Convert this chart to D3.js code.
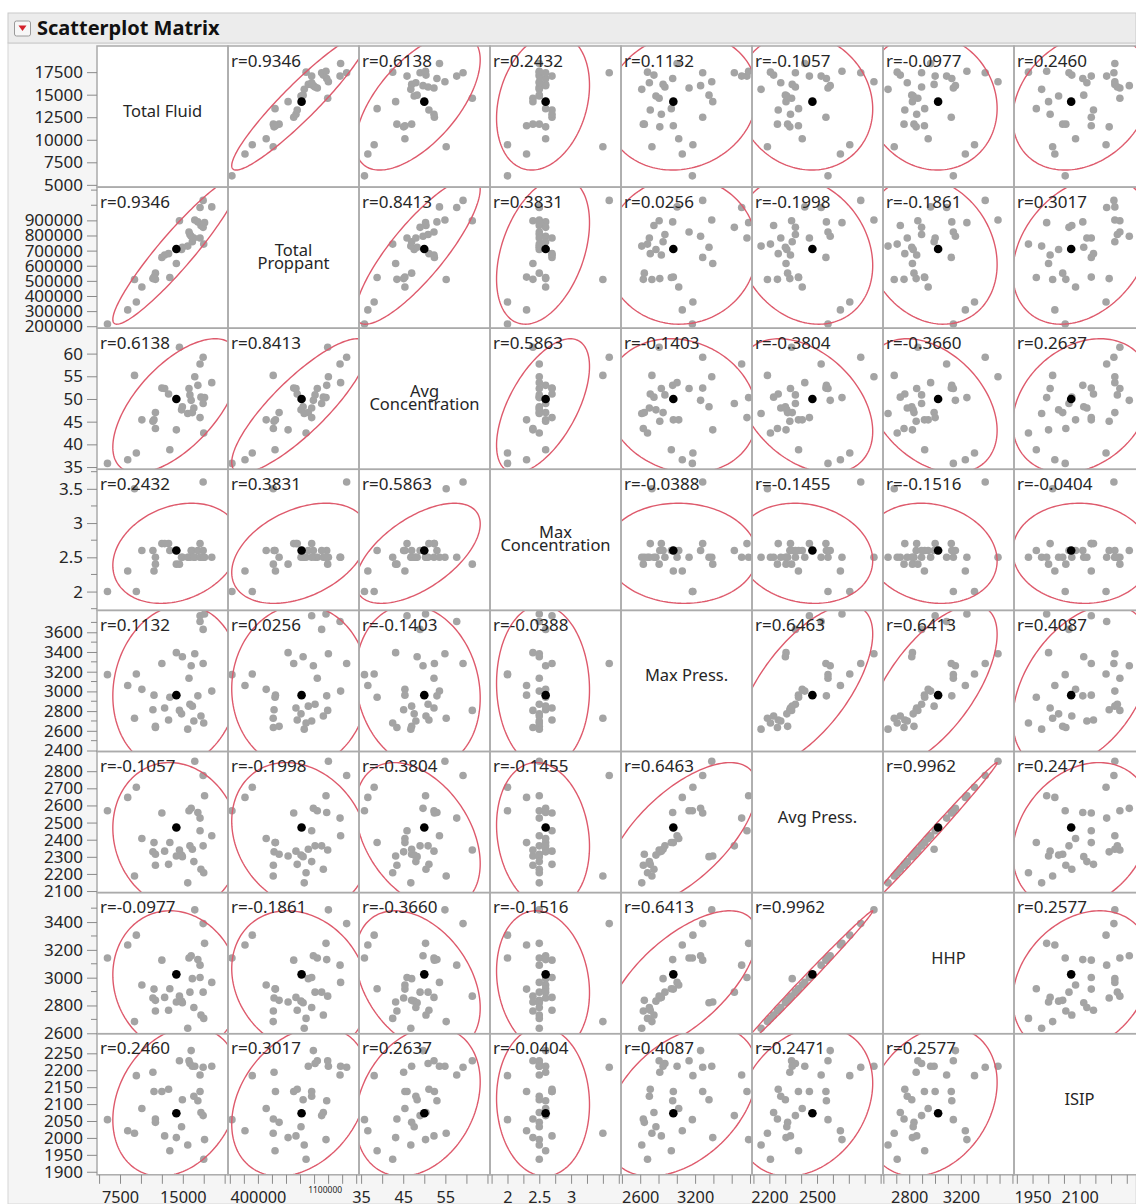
<!DOCTYPE html>
<html>
<head>
<meta charset="utf-8">
<script src="https://cdn.jsdelivr.net/npm/d3@7"></script>
<style>
  body { margin: 0; background: #fff; }
  svg { display: block; }
  text { font-family: "Noto Sans", "Open Sans", sans-serif; }
</style>
</head>
<body>
<svg id="chart" width="1136" height="1204"></svg>
<script>
// ---- Variables of the frac-job table ----
const variables = ["Total Fluid", "Total Proppant", "Avg Concentration", "Max Concentration",
                   "Max Press.", "Avg Press.", "HHP", "ISIP"];
const diagonalLabels = [["Total Fluid"], ["Total", "Proppant"], ["Avg", "Concentration"],
                        ["Max", "Concentration"], ["Max Press."], ["Avg Press."], ["HHP"], ["ISIP"]];

// One value per stage (row 14 is the highlighted stage)
const totalFluid = [6000, 8420, 9230, 9450, 10110, 11430, 11730, 11730, 11560, 12500, 12830, 13300,
  13450, 14230, 14230, 14600, 14850, 14950, 15590, 15740, 15850, 16000, 16140, 16320, 16430, 16800,
  17060, 17060, 17170, 17430, 17430, 17500, 17600, 18460];
const totalProppant = [215000, 308000, 509000, 360000, 459000, 515000, 510000, 551000, 525000, 655000,
  671000, 680000, 522000, 615000, 711000, 897000, 707000, 722000, 730000, 823000, 807000, 795000,
  759000, 783000, 902000, 890000, 783000, 985000, 866000, 854000, 1032000, 743000, 885000, 989000];
const avgConcentration = [35.8, 36.6, 55.2, 38.1, 45.4, 45.1, 43.5, 47.0, 45.4, 52.4, 52.3, 51.1,
  38.8, 43.2, 50.0, 61.4, 47.6, 48.3, 46.8, 52.3, 50.9, 49.7, 47.0, 48.0, 54.9, 53.0, 45.9, 57.7,
  50.4, 49.0, 59.2, 42.5, 50.3, 53.6];
const maxConcentration = [2.0, 2.3, 3.5, 2.0, 2.6, 2.6, 2.4, 2.5, 2.3, 2.7, 2.7, 2.7, 2.6, 2.4, 2.6,
  2.4, 2.5, 2.5, 2.5, 2.5, 2.5, 2.6, 2.6, 2.5, 2.5, 2.6, 2.7, 2.5, 2.5, 2.6, 3.6, 2.5, 2.5, 2.5];
const maxPress = [3170, 3060, 2728, 3176, 3021, 2814, 2634, 2645, 2962, 3283, 2831, 2710, 2940, 3393,
  2962, 2807, 2772, 3352, 2617, 3134, 2870, 3260, 2850, 2700, 3382, 2955, 3767, 3709, 2750, 3629,
  3283, 2680, 3785, 3003];
const avgPress = [2569, 2647, 2188, 2706, 2407, 2329, 2251, 2315, 2383, 2556, 2333, 2256, 2384, 2305,
  2471, 2340, 2310, 2301, 2148, 2569, 2364, 2583, 2344, 2272, 2858, 2559, 2452, 2526, 2227, 2364,
  2775, 2207, 2657, 2423];
const hhp = [3142, 3235, 2684, 3306, 2947, 2854, 2760, 2837, 2918, 3126, 2858, 2766, 2920, 2825, 3024,
  2867, 2831, 2820, 2636, 3142, 2896, 3158, 2993, 2785, 3488, 3130, 3001, 3090, 2731, 2896, 3389,
  2707, 3247, 2966];
const isip = [2054, 2021, 2014, 2184, 2087, 2194, 2056, 2046, 2137, 2137, 2006, 2144, 1962, 2001, 2073,
  2228, 2033, 2113, 1979, 2228, 2220, 2258, 2212, 2123, 2212, 2110, 2137, 2186, 2075, 2066, 2209,
  1937, 1995, 2212];
const highlightedRow = 14;

// Pairwise correlations printed in each cell
const correlations = [
  [1, 0.9346, 0.6138, 0.2432, 0.1132, -0.1057, -0.0977, 0.2460],
  [0.9346, 1, 0.8413, 0.3831, 0.0256, -0.1998, -0.1861, 0.3017],
  [0.6138, 0.8413, 1, 0.5863, -0.1403, -0.3804, -0.3660, 0.2637],
  [0.2432, 0.3831, 0.5863, 1, -0.0388, -0.1455, -0.1516, -0.0404],
  [0.1132, 0.0256, -0.1403, -0.0388, 1, 0.6463, 0.6413, 0.4087],
  [-0.1057, -0.1998, -0.3804, -0.1455, 0.6463, 1, 0.9962, 0.2471],
  [-0.0977, -0.1861, -0.3660, -0.1516, 0.6413, 0.9962, 1, 0.2577],
  [0.2460, 0.3017, 0.2637, -0.0404, 0.4087, 0.2471, 0.2577, 1]
];

// Axis ranges per variable
const axisDomains = [[4750, 20400], [187000, 1120000], [34.5, 65.6], [1.725, 3.785],
                     [2390, 3822], [2091, 2915], [2597, 3612], [1891, 2308]];

// Left-axis ticks
const yLabelTicks = [
  [5000, 7500, 10000, 12500, 15000, 17500],
  [200000, 300000, 400000, 500000, 600000, 700000, 800000, 900000],
  [35, 40, 45, 50, 55, 60],
  [2, 2.5, 3, 3.5],
  [2400, 2600, 2800, 3000, 3200, 3400, 3600],
  [2100, 2200, 2300, 2400, 2500, 2600, 2700, 2800],
  [2600, 2800, 3000, 3200, 3400],
  [1900, 1950, 2000, 2050, 2100, 2150, 2200, 2250]
];
const yMinorTicks = [
  [], [1000000, 1100000], [], [1.75, 2.25, 2.75, 3.25, 3.75],
  [2500, 2700, 2900, 3100, 3300, 3500, 3700], [], [2700, 2900, 3100, 3300, 3500], []
];
// Bottom-axis ticks and the subset that carries labels
const xTickValues = [
  [5000, 7500, 10000, 12500, 15000, 17500, 20000],
  [200000, 300000, 400000, 500000, 600000, 700000, 800000, 900000, 1000000, 1100000],
  [35, 40, 45, 50, 55, 60, 65],
  [1.75, 2, 2.25, 2.5, 2.75, 3, 3.25, 3.5, 3.75],
  [2400, 2600, 2800, 3000, 3200, 3400, 3600, 3800],
  [2100, 2200, 2300, 2400, 2500, 2600, 2700, 2800, 2900],
  [2600, 2700, 2800, 2900, 3000, 3100, 3200, 3300, 3400, 3500, 3600],
  [1900, 1950, 2000, 2050, 2100, 2150, 2200, 2250, 2300]
];
const xTickLabels = [[7500, 15000], [400000], [35, 45, 55], [2, 2.5, 3], [2600, 3200],
                     [2200, 2500], [2800, 3200], [1950, 2100]];
const smallTickLabel = { column: 1, value: 1100000 };

// ---- Layout ----
const W = 1136, H = 1204;
const gridLeft = 97, gridTop = 46, cellW = 131, cellH = 141.1;
const n = variables.length;
const gridBottom = gridTop + n * cellH;

const dataCols = [totalFluid, totalProppant, avgConcentration, maxConcentration,
                  maxPress, avgPress, hhp, isip];
const nObs = totalFluid.length;

const xScales = axisDomains.map((d, j) =>
  d3.scaleLinear().domain(d).range([gridLeft + j * cellW, gridLeft + (j + 1) * cellW]));
const yScales = axisDomains.map((d, i) =>
  d3.scaleLinear().domain(d).range([gridTop + (i + 1) * cellH, gridTop + i * cellH]));

const means = dataCols.map(c => d3.mean(c));
const sds = dataCols.map(c => d3.deviation(c));
const ellipseRadius = Math.sqrt(5.991);   // 95% bivariate normal contour

const fmt = v => (Number.isInteger(v) ? d3.format("d")(v) : d3.format("")(v));
const rFmt = v => "r=" + v.toFixed(4);     // plain hyphen for negatives
const textColor = "#262626";
const pointColor = "#a4a4a4";
const ellipseColor = "#de5a6c";
const borderColor = "#ababab";

const svg = d3.select("#chart");

// Page, header and report background
svg.append("rect").attr("width", W).attr("height", H).attr("fill", "#fff");
svg.append("rect").attr("x", 8).attr("y", 43).attr("width", W - 8).attr("height", H - 43)
  .attr("fill", "#f5f5f5").attr("stroke", "#d6d6d6");
svg.append("rect").attr("x", 8).attr("y", 13).attr("width", W - 8).attr("height", 30)
  .attr("fill", "#ececec").attr("stroke", "#c9c9c9");

// Disclosure button with red triangle
const btn = svg.append("g");
btn.append("rect").attr("x", 14.5).attr("y", 21).attr("width", 16).attr("height", 15).attr("rx", 2)
  .attr("fill", "#f7f7f7").attr("stroke", "#9a9a9a");
btn.append("path").attr("d", "M18.5,25.5 L26.5,25.5 L22.5,31 Z").attr("fill", "#d3202a");

svg.append("text").attr("x", 37).attr("y", 35).attr("font-size", 20).attr("font-weight", 700)
  .attr("font-family", "Lato, 'Noto Sans', sans-serif")
  .attr("fill", "#111").text("Scatterplot Matrix");

const defs = svg.append("defs");
const cells = [];
for (let i = 0; i < n; i++) for (let j = 0; j < n; j++) cells.push({ i, j });

cells.forEach(({ i, j }) => {
  defs.append("clipPath").attr("id", `clip-${i}-${j}`)
    .append("rect")
    .attr("x", xScales[j].range()[0]).attr("y", yScales[i].range()[1])
    .attr("width", cellW).attr("height", cellH);
});

// Cell backgrounds
svg.append("g").selectAll("rect").data(cells).join("rect")
  .attr("x", d => xScales[d.j].range()[0]).attr("y", d => yScales[d.i].range()[1])
  .attr("width", cellW).attr("height", cellH).attr("fill", "#fff");

// Scatter cells
const ellipseAngles = d3.range(0, 361, 2).map(a => a * Math.PI / 180);
cells.filter(c => c.i !== c.j).forEach(({ i, j }) => {
  const x = xScales[j], y = yScales[i];
  const g = svg.append("g").attr("clip-path", `url(#clip-${i}-${j})`);
  const r = correlations[i][j];
  const s = Math.sqrt(1 - r * r);

  const order = d3.range(nObs).filter(k => k !== highlightedRow);
  g.selectAll("circle.pt").data(order).join("circle")
    .attr("class", "pt")
    .attr("cx", k => x(dataCols[j][k])).attr("cy", k => y(dataCols[i][k]))
    .attr("r", 3.8).attr("fill", pointColor);

  const ellipse = d3.line()
    .x(t => x(means[j] + ellipseRadius * sds[j] * Math.cos(t)))
    .y(t => y(means[i] + ellipseRadius * sds[i] * (r * Math.cos(t) + s * Math.sin(t))))
    .curve(d3.curveLinearClosed);
  g.append("path").attr("d", ellipse(ellipseAngles))
    .attr("fill", "none").attr("stroke", ellipseColor).attr("stroke-width", 1.4);

  g.append("circle")
    .attr("cx", x(dataCols[j][highlightedRow])).attr("cy", y(dataCols[i][highlightedRow]))
    .attr("r", 4.3).attr("fill", "#000");
});

// Cell borders
svg.append("g").selectAll("rect").data(cells).join("rect")
  .attr("x", d => xScales[d.j].range()[0]).attr("y", d => yScales[d.i].range()[1])
  .attr("width", cellW).attr("height", cellH)
  .attr("fill", "none").attr("stroke", borderColor).attr("stroke-width", 1.5);

// Correlation labels
cells.filter(c => c.i !== c.j).forEach(({ i, j }) => {
  svg.append("text")
    .attr("x", xScales[j].range()[0] + 3).attr("y", yScales[i].range()[1] + 20.5)
    .attr("font-size", 17).attr("fill", textColor)
    .text(rFmt(correlations[i][j]));
});

// Variable names on the diagonal
diagonalLabels.forEach((lines, k) => {
  const cx = (xScales[k].range()[0] + xScales[k].range()[1]) / 2;
  const cy = (yScales[k].range()[0] + yScales[k].range()[1]) / 2;
  const t = svg.append("text").attr("text-anchor", "middle").attr("font-size", 16.5)
    .attr("fill", textColor);
  if (lines.length === 1) {
    t.append("tspan").attr("x", cx).attr("y", cy + 0.5).text(lines[0]);
  } else {
    t.append("tspan").attr("x", cx).attr("y", cy - 2).text(lines[0]);
    t.append("tspan").attr("x", cx).attr("y", cy + 11.5).text(lines[1]);
  }
});

// Left axes
const tickColor = "#8a8a8a";
yScales.forEach((scale, i) => {
  const ax = svg.append("g").attr("transform", `translate(${gridLeft},0)`)
    .call(d3.axisLeft(scale).tickValues(yLabelTicks[i]).tickSize(10).tickPadding(4).tickFormat(fmt));
  ax.select(".domain").remove();
  ax.selectAll("line").attr("stroke", tickColor);
  ax.selectAll("text").attr("font-size", 17).attr("fill", textColor)
    .attr("font-family", "'Noto Sans', sans-serif");
  svg.append("g").selectAll("line").data(yMinorTicks[i]).join("line")
    .attr("x1", gridLeft - 6).attr("x2", gridLeft)
    .attr("y1", d => scale(d)).attr("y2", d => scale(d)).attr("stroke", tickColor);
});

// Bottom axes
xScales.forEach((scale, j) => {
  const labelled = new Set(xTickLabels[j]);
  const ax = svg.append("g").attr("transform", `translate(0,${gridBottom})`)
    .call(d3.axisBottom(scale).tickValues(xTickValues[j]).tickSize(9).tickPadding(8)
      .tickFormat(d => (labelled.has(d) ? fmt(d) : "")));
  ax.select(".domain").remove();
  ax.selectAll("line").attr("stroke", tickColor);
  ax.selectAll("text").attr("font-size", 16.3).attr("fill", textColor)
    .attr("font-family", "'Noto Sans', sans-serif");
});

// Crowded top label on the proppant axis
svg.append("text")
  .attr("x", xScales[smallTickLabel.column](smallTickLabel.value) - 14)
  .attr("y", gridBottom + 18).attr("text-anchor", "end")
  .attr("font-size", 8.5).attr("fill", textColor)
  .text(fmt(smallTickLabel.value));
</script>
</body>
</html>
